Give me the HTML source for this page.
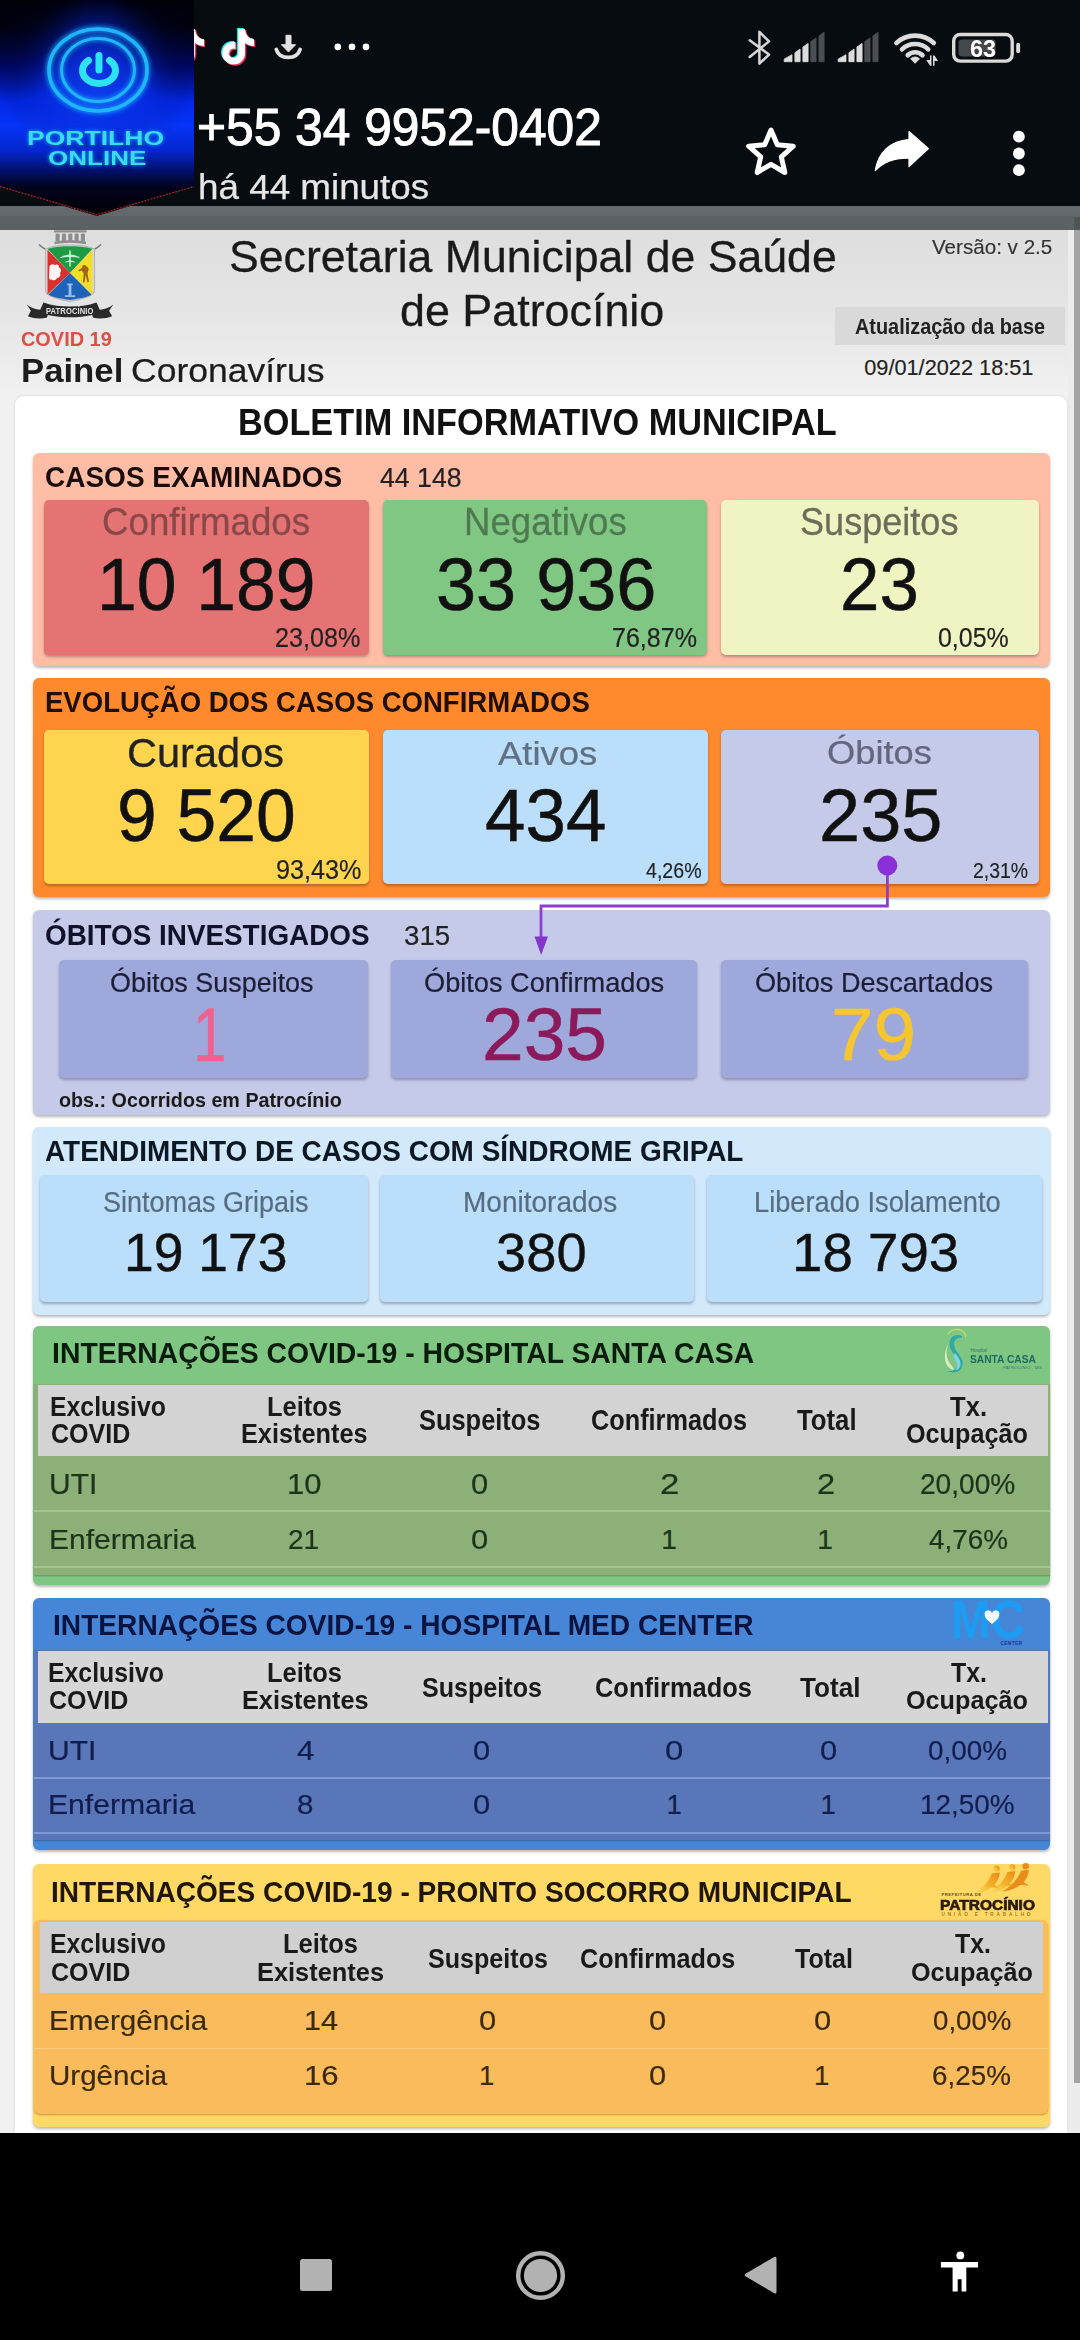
<!DOCTYPE html>
<html lang="pt-BR"><head><meta charset="utf-8"><title>Painel Coronavírus - Patrocínio</title>
<style>
html,body{margin:0;padding:0;background:#000;}
body{width:1080px;height:2340px;position:relative;overflow:hidden;font-family:"Liberation Sans",sans-serif;}
.t{position:absolute;white-space:nowrap;transform-origin:0 0;}
.r{position:absolute;}
svg{position:absolute;overflow:visible;}
</style></head><body>
<div class="r" style="left:0px;top:0px;width:1080px;height:206px;background:#070c10;"></div>
<div class="r" style="left:0px;top:205.5px;width:1080px;height:24.5px;background:linear-gradient(#656a6e 0,#63686c 40%,#5d6266 45%,#5b6063 100%);"></div>
<div class="r" style="left:0px;top:230px;width:1068px;height:1903px;background:linear-gradient(#dedede 0,#e6e6e6 90px,#f1f1f1 165px,#f1f1f1 100%);"></div>
<div class="r" style="left:1068px;top:230px;width:12px;height:1903px;background:#ececec;"></div>
<div class="r" style="left:1074px;top:217px;width:6px;height:13px;background:#4f5457;"></div>
<div class="r" style="left:1074px;top:230px;width:6px;height:1853px;background:#a3a3a3;"></div>
<div class="r" style="left:15px;top:396px;width:1052px;height:1737px;background:#fff;border-radius:9px 9px 0 0;box-shadow:0 0 3px rgba(0,0,0,.12);"></div>
<div class="t" style="left:228.99px;top:235.26px;font-size:44.35px;line-height:44.35px;color:#1a1a1a;transform:scaleX(1.0063);-webkit-text-stroke-width:0.31px;">Secretaria Municipal de Saúde</div>
<div class="t" style="left:400.11px;top:288.25px;font-size:45.07px;line-height:45.07px;color:#1a1a1a;transform:scaleX(0.9951);-webkit-text-stroke-width:0.32px;">de Patrocínio</div>
<div class="t" style="left:20.80px;top:329.32px;font-size:20.29px;line-height:20.29px;font-weight:700;color:#dc5046;transform:scaleX(0.9813);">COVID 19</div>
<div class="t" style="left:20.54px;top:354.41px;font-size:33.19px;line-height:33.19px;font-weight:700;color:#1c1c1c;transform:scaleX(1.0468);">Painel</div>
<div class="t" style="left:131.02px;top:354.41px;font-size:33.19px;line-height:33.19px;color:#1c1c1c;transform:scaleX(1.0703);-webkit-text-stroke-width:0.23px;">Coronavírus</div>
<div class="t" style="left:931.50px;top:235.71px;font-size:21.01px;line-height:21.01px;color:#333;transform:scaleX(0.9813);-webkit-text-stroke-width:0.15px;">Versão: v 2.5</div>
<div class="r" style="left:835px;top:307px;width:230px;height:38px;background:#d9d9d9;"></div>
<div class="t" style="left:854.50px;top:315.60px;font-size:21.74px;line-height:21.74px;font-weight:700;color:#222;transform:scaleX(0.9147);">Atualização da base</div>
<div class="t" style="left:864.24px;top:357.10px;font-size:21.74px;line-height:21.74px;color:#222;transform:scaleX(1.0000);-webkit-text-stroke-width:0.15px;">09/01/2022 18:51</div>
<div class="t" style="left:238.07px;top:405.02px;font-size:36.96px;line-height:36.96px;font-weight:700;color:#111;transform:scaleX(0.9277);">BOLETIM INFORMATIVO MUNICIPAL</div>
<div class="r" style="left:33px;top:453px;width:1017px;height:213px;background:#ffbda6;border-radius:6px;box-shadow:0 2px 3px rgba(0,0,0,.28);"></div>
<div class="t" style="left:44.98px;top:462.03px;font-size:29.86px;line-height:29.86px;font-weight:700;color:#1a0c0a;transform:scaleX(0.9376);">CASOS EXAMINADOS</div>
<div class="t" style="left:380.47px;top:463.62px;font-size:27.97px;line-height:27.97px;color:#222;transform:scaleX(0.9534);-webkit-text-stroke-width:0.20px;">44 148</div>
<div class="r" style="left:44px;top:500px;width:325px;height:155px;background:#e57373;border-radius:5px;box-shadow:0 2px 3px rgba(0,0,0,.28);"></div>
<div class="r" style="left:383px;top:500px;width:324px;height:155px;background:#81c784;border-radius:5px;box-shadow:0 2px 3px rgba(0,0,0,.28);"></div>
<div class="r" style="left:721px;top:500px;width:318px;height:155px;background:#f0f4c3;border-radius:5px;box-shadow:0 2px 3px rgba(0,0,0,.28);"></div>
<div class="t" style="left:102.16px;top:503.56px;font-size:37.97px;line-height:37.97px;color:#8a4848;transform:scaleX(0.9667);-webkit-text-stroke-width:0.27px;">Confirmados</div>
<div class="t" style="left:464.07px;top:503.56px;font-size:37.97px;line-height:37.97px;color:#4e7a52;transform:scaleX(0.9640);-webkit-text-stroke-width:0.27px;">Negativos</div>
<div class="t" style="left:800.38px;top:503.56px;font-size:37.97px;line-height:37.97px;color:#6b6d58;transform:scaleX(0.9502);-webkit-text-stroke-width:0.27px;">Suspeitos</div>
<div class="t" style="left:96.64px;top:549.15px;font-size:73.38px;line-height:73.38px;color:#111;transform:scaleX(0.9743);-webkit-text-stroke-width:0.51px;">10 189</div>
<div class="t" style="left:435.78px;top:549.15px;font-size:73.38px;line-height:73.38px;color:#111;transform:scaleX(0.9825);-webkit-text-stroke-width:0.51px;">33 936</div>
<div class="t" style="left:840.16px;top:549.15px;font-size:73.38px;line-height:73.38px;color:#111;transform:scaleX(0.9660);-webkit-text-stroke-width:0.51px;">23</div>
<div class="t" style="left:275.24px;top:625.30px;font-size:26.81px;line-height:26.81px;color:#222;transform:scaleX(0.9409);-webkit-text-stroke-width:0.19px;">23,08%</div>
<div class="t" style="left:612.25px;top:625.30px;font-size:26.81px;line-height:26.81px;color:#222;transform:scaleX(0.9352);-webkit-text-stroke-width:0.19px;">76,87%</div>
<div class="t" style="left:937.63px;top:625.30px;font-size:26.81px;line-height:26.81px;color:#222;transform:scaleX(0.9307);-webkit-text-stroke-width:0.19px;">0,05%</div>
<div class="r" style="left:33px;top:678px;width:1017px;height:219px;background:#ff8a2e;border-radius:6px;box-shadow:0 2px 3px rgba(0,0,0,.28);"></div>
<div class="t" style="left:44.91px;top:686.93px;font-size:29.86px;line-height:29.86px;font-weight:700;color:#1f0e02;transform:scaleX(0.9224);">EVOLUÇÃO DOS CASOS CONFIRMADOS</div>
<div class="r" style="left:44px;top:730px;width:325px;height:154px;background:#ffd54f;border-radius:5px;box-shadow:0 2px 3px rgba(0,0,0,.28);"></div>
<div class="r" style="left:383px;top:730px;width:325px;height:154px;background:#bbdefb;border-radius:5px;box-shadow:0 2px 3px rgba(0,0,0,.28);"></div>
<div class="r" style="left:721px;top:730px;width:318px;height:154px;background:#c5cae9;border-radius:5px;box-shadow:0 2px 3px rgba(0,0,0,.28);"></div>
<div class="t" style="left:126.92px;top:734.26px;font-size:39.86px;line-height:39.86px;color:#222;transform:scaleX(1.0423);-webkit-text-stroke-width:0.28px;">Curados</div>
<div class="t" style="left:497.50px;top:736.84px;font-size:33.62px;line-height:33.62px;color:#5f7182;transform:scaleX(1.0835);-webkit-text-stroke-width:0.24px;">Ativos</div>
<div class="t" style="left:827.37px;top:736.95px;font-size:32.90px;line-height:32.90px;color:#62667e;transform:scaleX(1.1034);-webkit-text-stroke-width:0.23px;">Óbitos</div>
<div class="t" style="left:116.78px;top:778.53px;font-size:73.52px;line-height:73.52px;color:#111;transform:scaleX(0.9718);-webkit-text-stroke-width:0.51px;">9 520</div>
<div class="t" style="left:485.44px;top:778.53px;font-size:73.52px;line-height:73.52px;color:#111;transform:scaleX(0.9899);-webkit-text-stroke-width:0.51px;">434</div>
<div class="t" style="left:819.20px;top:778.53px;font-size:73.52px;line-height:73.52px;color:#111;transform:scaleX(1.0061);-webkit-text-stroke-width:0.51px;">235</div>
<div class="t" style="left:276.37px;top:856.19px;font-size:27.54px;line-height:27.54px;color:#222;transform:scaleX(0.9147);-webkit-text-stroke-width:0.19px;">93,43%</div>
<div class="t" style="left:646.11px;top:859.60px;font-size:21.74px;line-height:21.74px;color:#222;transform:scaleX(0.9018);-webkit-text-stroke-width:0.15px;">4,26%</div>
<div class="t" style="left:973.03px;top:859.60px;font-size:21.74px;line-height:21.74px;color:#222;transform:scaleX(0.8949);-webkit-text-stroke-width:0.15px;">2,31%</div>
<div class="r" style="left:33px;top:910px;width:1017px;height:205px;background:#c5cae9;border-radius:6px;box-shadow:0 2px 3px rgba(0,0,0,.28);"></div>
<div class="t" style="left:45.29px;top:920.30px;font-size:29.42px;line-height:29.42px;font-weight:700;color:#10122a;transform:scaleX(0.9473);">ÓBITOS INVESTIGADOS</div>
<div class="t" style="left:404.03px;top:921.65px;font-size:27.83px;line-height:27.83px;color:#222;transform:scaleX(0.9945);-webkit-text-stroke-width:0.19px;">315</div>
<div class="r" style="left:59px;top:960px;width:308.5px;height:117.5px;background:#9fa8da;border-radius:5px;box-shadow:0 2px 3px rgba(0,0,0,.28);"></div>
<div class="r" style="left:391px;top:960px;width:305.5px;height:117.5px;background:#9fa8da;border-radius:5px;box-shadow:0 2px 3px rgba(0,0,0,.28);"></div>
<div class="r" style="left:721px;top:960px;width:306.5px;height:117.5px;background:#9fa8da;border-radius:5px;box-shadow:0 2px 3px rgba(0,0,0,.28);"></div>
<div class="t" style="left:109.89px;top:968.08px;font-size:28.26px;line-height:28.26px;color:#1b1e35;transform:scaleX(0.9532);-webkit-text-stroke-width:0.20px;">Óbitos Suspeitos</div>
<div class="t" style="left:423.78px;top:968.08px;font-size:28.26px;line-height:28.26px;color:#1b1e35;transform:scaleX(0.9619);-webkit-text-stroke-width:0.20px;">Óbitos Confirmados</div>
<div class="t" style="left:755.28px;top:968.08px;font-size:28.26px;line-height:28.26px;color:#1b1e35;transform:scaleX(0.9599);-webkit-text-stroke-width:0.20px;">Óbitos Descartados</div>
<div class="t" style="left:193.37px;top:998.11px;font-size:75.36px;line-height:75.36px;color:#ee6291;transform:scaleX(0.8000);-webkit-text-stroke-width:0.53px;">1</div>
<div class="t" style="left:481.95px;top:999.17px;font-size:73.24px;line-height:73.24px;color:#8c1a5b;transform:scaleX(1.0230);-webkit-text-stroke-width:0.51px;">235</div>
<div class="t" style="left:831.18px;top:999.17px;font-size:73.24px;line-height:73.24px;color:#f5c62f;transform:scaleX(1.0425);-webkit-text-stroke-width:0.51px;">79</div>
<div class="t" style="left:59.31px;top:1091.44px;font-size:19.57px;line-height:19.57px;font-weight:700;color:#1a1a1a;transform:scaleX(1.0086);">obs.: Ocorridos em Patrocínio</div>
<svg style="left:0;top:0" width="1080" height="1200"><g fill="none" stroke="#8a3fcf" stroke-width="2.800"><path d="M887.400 865 V906 H541 V940"/></g><circle cx="887.300" cy="865.500" r="10" fill="#8a30d6"/><path d="M534.500 936.500 L548 936.500 L541.200 955 Z" fill="#8236cc"/></svg>
<div class="r" style="left:33px;top:1127px;width:1017px;height:188px;background:#d2e8fb;border-radius:6px;box-shadow:0 2px 3px rgba(0,0,0,.28);"></div>
<div class="t" style="left:44.90px;top:1135.83px;font-size:29.86px;line-height:29.86px;font-weight:700;color:#0e1822;transform:scaleX(0.9356);">ATENDIMENTO DE CASOS COM SÍNDROME GRIPAL</div>
<div class="r" style="left:40px;top:1175px;width:327.5px;height:127px;background:#bbdefb;border-radius:5px;box-shadow:0 2px 3px rgba(0,0,0,.28);"></div>
<div class="r" style="left:380px;top:1175px;width:314px;height:127px;background:#bbdefb;border-radius:5px;box-shadow:0 2px 3px rgba(0,0,0,.28);"></div>
<div class="r" style="left:706.5px;top:1175px;width:335.0px;height:127px;background:#bbdefb;border-radius:5px;box-shadow:0 2px 3px rgba(0,0,0,.28);"></div>
<div class="t" style="left:103.39px;top:1187.66px;font-size:28.99px;line-height:28.99px;color:#566d80;transform:scaleX(0.9313);-webkit-text-stroke-width:0.20px;">Sintomas Gripais</div>
<div class="t" style="left:462.76px;top:1187.66px;font-size:28.99px;line-height:28.99px;color:#566d80;transform:scaleX(0.9665);-webkit-text-stroke-width:0.20px;">Monitorados</div>
<div class="t" style="left:753.82px;top:1187.66px;font-size:28.99px;line-height:28.99px;color:#566d80;transform:scaleX(0.9389);-webkit-text-stroke-width:0.20px;">Liberado Isolamento</div>
<div class="t" style="left:124.29px;top:1227.14px;font-size:52.96px;line-height:52.96px;color:#111;transform:scaleX(1.0092);-webkit-text-stroke-width:0.37px;">19 173</div>
<div class="t" style="left:495.70px;top:1227.14px;font-size:52.96px;line-height:52.96px;color:#111;transform:scaleX(1.0252);-webkit-text-stroke-width:0.37px;">380</div>
<div class="t" style="left:792.40px;top:1227.14px;font-size:52.96px;line-height:52.96px;color:#111;transform:scaleX(1.0323);-webkit-text-stroke-width:0.37px;">18 793</div>
<div class="r" style="left:33px;top:1326px;width:1017px;height:259px;background:#7fc682;border-radius:6px;box-shadow:0 2px 3px rgba(0,0,0,.28);"></div>
<div class="t" style="left:52.36px;top:1337.53px;font-size:29.86px;line-height:29.86px;font-weight:700;color:#0a1c0c;transform:scaleX(0.9506);">INTERNAÇÕES COVID-19 - HOSPITAL SANTA CASA</div>
<div class="r" style="left:34px;top:1384px;width:1016px;height:191px;background:#8daf78;box-shadow:0 1px 1.500px rgba(0,0,0,.25);"></div>
<div class="r" style="left:38px;top:1385px;width:1009.5px;height:71px;background:#d3d3d3;"></div>
<div class="r" style="left:34px;top:1510px;width:1016px;height:2px;background:#a3c590;"></div>
<div class="r" style="left:34px;top:1565.5px;width:1016px;height:2.0px;background:#a3c590;"></div>
<div class="t" style="left:49.89px;top:1393.80px;font-size:26.81px;line-height:26.81px;font-weight:700;color:#1a1a1a;transform:scaleX(0.9263);">Exclusivo</div>
<div class="t" style="left:50.50px;top:1421.30px;font-size:26.81px;line-height:26.81px;font-weight:700;color:#1a1a1a;transform:scaleX(0.9355);">COVID</div>
<div class="t" style="left:266.84px;top:1393.80px;font-size:26.81px;line-height:26.81px;font-weight:700;color:#1a1a1a;transform:scaleX(0.9505);">Leitos</div>
<div class="t" style="left:240.86px;top:1421.30px;font-size:26.81px;line-height:26.81px;font-weight:700;color:#1a1a1a;transform:scaleX(0.9438);">Existentes</div>
<div class="t" style="left:419.36px;top:1405.96px;font-size:28.99px;line-height:28.99px;font-weight:700;color:#1a1a1a;transform:scaleX(0.8771);">Suspeitos</div>
<div class="t" style="left:591.49px;top:1405.96px;font-size:28.99px;line-height:28.99px;font-weight:700;color:#1a1a1a;transform:scaleX(0.8724);">Confirmados</div>
<div class="t" style="left:797.24px;top:1405.96px;font-size:28.99px;line-height:28.99px;font-weight:700;color:#1a1a1a;transform:scaleX(0.8876);">Total</div>
<div class="t" style="left:949.74px;top:1393.80px;font-size:26.81px;line-height:26.81px;font-weight:700;color:#1a1a1a;transform:scaleX(0.9563);">Tx.</div>
<div class="t" style="left:906.49px;top:1421.30px;font-size:26.81px;line-height:26.81px;font-weight:700;color:#1a1a1a;transform:scaleX(0.9403);">Ocupação</div>
<div class="t" style="left:49.25px;top:1469.79px;font-size:28.84px;line-height:28.84px;color:#1c331c;transform:scaleX(1.0402);-webkit-text-stroke-width:0.20px;">UTI</div>
<div class="t" style="left:286.68px;top:1469.79px;font-size:28.84px;line-height:28.84px;color:#1c331c;transform:scaleX(1.0749);-webkit-text-stroke-width:0.20px;">10</div>
<div class="t" style="left:471.42px;top:1469.79px;font-size:28.84px;line-height:28.84px;color:#1c331c;transform:scaleX(1.0724);-webkit-text-stroke-width:0.20px;">0</div>
<div class="t" style="left:659.76px;top:1469.79px;font-size:28.84px;line-height:28.84px;color:#1c331c;transform:scaleX(1.2060);-webkit-text-stroke-width:0.20px;">2</div>
<div class="t" style="left:816.87px;top:1469.79px;font-size:28.84px;line-height:28.84px;color:#1c331c;transform:scaleX(1.1307);-webkit-text-stroke-width:0.20px;">2</div>
<div class="t" style="left:919.60px;top:1469.79px;font-size:28.84px;line-height:28.84px;color:#1c331c;transform:scaleX(0.9742);-webkit-text-stroke-width:0.20px;">20,00%</div>
<div class="t" style="left:49.10px;top:1526.10px;font-size:28.12px;line-height:28.12px;color:#1c331c;transform:scaleX(1.0674);-webkit-text-stroke-width:0.20px;">Enfermaria</div>
<div class="t" style="left:287.60px;top:1526.10px;font-size:28.12px;line-height:28.12px;color:#1c331c;transform:scaleX(0.9987);-webkit-text-stroke-width:0.20px;">21</div>
<div class="t" style="left:471.42px;top:1526.10px;font-size:28.12px;line-height:28.12px;color:#1c331c;transform:scaleX(1.1000);-webkit-text-stroke-width:0.20px;">0</div>
<div class="t" style="left:661.28px;top:1526.10px;font-size:28.12px;line-height:28.12px;color:#1c331c;transform:scaleX(1.0000);-webkit-text-stroke-width:0.20px;">1</div>
<div class="t" style="left:817.28px;top:1526.10px;font-size:28.12px;line-height:28.12px;color:#1c331c;transform:scaleX(1.0000);-webkit-text-stroke-width:0.20px;">1</div>
<div class="t" style="left:929.44px;top:1526.10px;font-size:28.12px;line-height:28.12px;color:#1c331c;transform:scaleX(0.9915);-webkit-text-stroke-width:0.20px;">4,76%</div>
<div class="r" style="left:33px;top:1598px;width:1017px;height:252px;background:#4786d6;border-radius:6px;box-shadow:0 2px 3px rgba(0,0,0,.28);"></div>
<div class="t" style="left:52.57px;top:1610.17px;font-size:29.57px;line-height:29.57px;font-weight:700;color:#0b1440;transform:scaleX(0.9514);">INTERNAÇÕES COVID-19 - HOSPITAL MED CENTER</div>
<div class="r" style="left:34px;top:1650px;width:1016px;height:190px;background:#5977b8;box-shadow:0 1px 1.500px rgba(0,0,0,.25);"></div>
<div class="r" style="left:37.5px;top:1650.5px;width:1010.5px;height:72.0px;background:#d6d6d6;"></div>
<div class="r" style="left:34px;top:1776.5px;width:1016px;height:2.0px;background:#7d9ad6;"></div>
<div class="r" style="left:34px;top:1831.5px;width:1016px;height:2.0px;background:#7d9ad6;"></div>
<div class="t" style="left:48.39px;top:1660.30px;font-size:26.81px;line-height:26.81px;font-weight:700;color:#1a1a1a;transform:scaleX(0.9263);">Exclusivo</div>
<div class="t" style="left:49.00px;top:1687.42px;font-size:26.09px;line-height:26.09px;font-weight:700;color:#1a1a1a;transform:scaleX(0.9614);">COVID</div>
<div class="t" style="left:266.84px;top:1660.30px;font-size:26.81px;line-height:26.81px;font-weight:700;color:#1a1a1a;transform:scaleX(0.9505);">Leitos</div>
<div class="t" style="left:241.86px;top:1687.42px;font-size:26.09px;line-height:26.09px;font-weight:700;color:#1a1a1a;transform:scaleX(0.9701);">Existentes</div>
<div class="t" style="left:421.87px;top:1673.08px;font-size:28.26px;line-height:28.26px;font-weight:700;color:#1a1a1a;transform:scaleX(0.8884);">Suspeitos</div>
<div class="t" style="left:595.48px;top:1673.08px;font-size:28.26px;line-height:28.26px;font-weight:700;color:#1a1a1a;transform:scaleX(0.9006);">Confirmados</div>
<div class="t" style="left:799.74px;top:1673.08px;font-size:28.26px;line-height:28.26px;font-weight:700;color:#1a1a1a;transform:scaleX(0.9262);">Total</div>
<div class="t" style="left:950.75px;top:1660.30px;font-size:26.81px;line-height:26.81px;font-weight:700;color:#1a1a1a;transform:scaleX(0.9290);">Tx.</div>
<div class="t" style="left:906.49px;top:1687.42px;font-size:26.09px;line-height:26.09px;font-weight:700;color:#1a1a1a;transform:scaleX(0.9664);">Ocupação</div>
<div class="t" style="left:47.75px;top:1737.19px;font-size:27.54px;line-height:27.54px;color:#101d4d;transform:scaleX(1.0895);-webkit-text-stroke-width:0.19px;">UTI</div>
<div class="t" style="left:296.87px;top:1737.19px;font-size:27.54px;line-height:27.54px;color:#101d4d;transform:scaleX(1.1393);-webkit-text-stroke-width:0.19px;">4</div>
<div class="t" style="left:472.92px;top:1737.19px;font-size:27.54px;line-height:27.54px;color:#101d4d;transform:scaleX(1.1232);-webkit-text-stroke-width:0.19px;">0</div>
<div class="t" style="left:665.35px;top:1737.19px;font-size:27.54px;line-height:27.54px;color:#101d4d;transform:scaleX(1.1980);-webkit-text-stroke-width:0.19px;">0</div>
<div class="t" style="left:820.42px;top:1737.19px;font-size:27.54px;line-height:27.54px;color:#101d4d;transform:scaleX(1.1232);-webkit-text-stroke-width:0.19px;">0</div>
<div class="t" style="left:928.03px;top:1737.19px;font-size:27.54px;line-height:27.54px;color:#101d4d;transform:scaleX(1.0113);-webkit-text-stroke-width:0.19px;">0,00%</div>
<div class="t" style="left:47.59px;top:1791.19px;font-size:27.54px;line-height:27.54px;color:#101d4d;transform:scaleX(1.0936);-webkit-text-stroke-width:0.19px;">Enfermaria</div>
<div class="t" style="left:297.32px;top:1791.19px;font-size:27.54px;line-height:27.54px;color:#101d4d;transform:scaleX(1.0704);-webkit-text-stroke-width:0.19px;">8</div>
<div class="t" style="left:472.92px;top:1791.19px;font-size:27.54px;line-height:27.54px;color:#101d4d;transform:scaleX(1.1232);-webkit-text-stroke-width:0.19px;">0</div>
<div class="t" style="left:666.45px;top:1791.19px;font-size:27.54px;line-height:27.54px;color:#101d4d;transform:scaleX(1.0000);-webkit-text-stroke-width:0.19px;">1</div>
<div class="t" style="left:820.45px;top:1791.19px;font-size:27.54px;line-height:27.54px;color:#101d4d;transform:scaleX(1.0000);-webkit-text-stroke-width:0.19px;">1</div>
<div class="t" style="left:920.41px;top:1791.19px;font-size:27.54px;line-height:27.54px;color:#101d4d;transform:scaleX(1.0115);-webkit-text-stroke-width:0.19px;">12,50%</div>
<div class="r" style="left:33px;top:1864px;width:1017px;height:263px;background:#ffd966;border-radius:6px;box-shadow:0 2px 3px rgba(0,0,0,.28);"></div>
<div class="t" style="left:50.97px;top:1877.02px;font-size:29.28px;line-height:29.28px;font-weight:700;color:#1f1605;transform:scaleX(0.9592);">INTERNAÇÕES COVID-19 - PRONTO SOCORRO MUNICIPAL</div>
<div class="r" style="left:34px;top:1919.5px;width:1014px;height:194.5px;background:#f9bb5b;border-radius:6px;box-shadow:0 1px 2px rgba(120,70,0,.45);"></div>
<div class="r" style="left:40px;top:1922px;width:1002.5px;height:70.5px;background:#d0d0d0;"></div>
<div class="r" style="left:34px;top:2047.5px;width:1014px;height:1.5px;background:rgba(255,235,190,.35);"></div>
<div class="t" style="left:49.89px;top:1931.30px;font-size:26.81px;line-height:26.81px;font-weight:700;color:#1a1a1a;transform:scaleX(0.9263);">Exclusivo</div>
<div class="t" style="left:50.50px;top:1958.92px;font-size:26.09px;line-height:26.09px;font-weight:700;color:#1a1a1a;transform:scaleX(0.9614);">COVID</div>
<div class="t" style="left:283.34px;top:1931.30px;font-size:26.81px;line-height:26.81px;font-weight:700;color:#1a1a1a;transform:scaleX(0.9505);">Leitos</div>
<div class="t" style="left:257.35px;top:1958.92px;font-size:26.09px;line-height:26.09px;font-weight:700;color:#1a1a1a;transform:scaleX(0.9740);">Existentes</div>
<div class="t" style="left:427.87px;top:1944.08px;font-size:28.26px;line-height:28.26px;font-weight:700;color:#1a1a1a;transform:scaleX(0.8884);">Suspeitos</div>
<div class="t" style="left:580.49px;top:1944.08px;font-size:28.26px;line-height:28.26px;font-weight:700;color:#1a1a1a;transform:scaleX(0.8919);">Confirmados</div>
<div class="t" style="left:794.75px;top:1944.08px;font-size:28.26px;line-height:28.26px;font-weight:700;color:#1a1a1a;transform:scaleX(0.8866);">Total</div>
<div class="t" style="left:954.75px;top:1931.30px;font-size:26.81px;line-height:26.81px;font-weight:700;color:#1a1a1a;transform:scaleX(0.9290);">Tx.</div>
<div class="t" style="left:911.49px;top:1958.92px;font-size:26.09px;line-height:26.09px;font-weight:700;color:#1a1a1a;transform:scaleX(0.9664);">Ocupação</div>
<div class="t" style="left:49.13px;top:2007.19px;font-size:27.54px;line-height:27.54px;color:#3a2a10;transform:scaleX(1.0770);-webkit-text-stroke-width:0.19px;">Emergência</div>
<div class="t" style="left:304.20px;top:2007.19px;font-size:27.54px;line-height:27.54px;color:#3a2a10;transform:scaleX(1.1146);-webkit-text-stroke-width:0.19px;">14</div>
<div class="t" style="left:478.92px;top:2007.19px;font-size:27.54px;line-height:27.54px;color:#3a2a10;transform:scaleX(1.1232);-webkit-text-stroke-width:0.19px;">0</div>
<div class="t" style="left:648.92px;top:2007.19px;font-size:27.54px;line-height:27.54px;color:#3a2a10;transform:scaleX(1.1232);-webkit-text-stroke-width:0.19px;">0</div>
<div class="t" style="left:813.92px;top:2007.19px;font-size:27.54px;line-height:27.54px;color:#3a2a10;transform:scaleX(1.1232);-webkit-text-stroke-width:0.19px;">0</div>
<div class="t" style="left:932.53px;top:2007.19px;font-size:27.54px;line-height:27.54px;color:#3a2a10;transform:scaleX(1.0048);-webkit-text-stroke-width:0.19px;">0,00%</div>
<div class="t" style="left:49.29px;top:2062.19px;font-size:27.54px;line-height:27.54px;color:#3a2a10;transform:scaleX(1.0719);-webkit-text-stroke-width:0.19px;">Urgência</div>
<div class="t" style="left:304.16px;top:2062.19px;font-size:27.54px;line-height:27.54px;color:#3a2a10;transform:scaleX(1.1314);-webkit-text-stroke-width:0.19px;">16</div>
<div class="t" style="left:478.95px;top:2062.19px;font-size:27.54px;line-height:27.54px;color:#3a2a10;transform:scaleX(1.0000);-webkit-text-stroke-width:0.19px;">1</div>
<div class="t" style="left:648.92px;top:2062.19px;font-size:27.54px;line-height:27.54px;color:#3a2a10;transform:scaleX(1.1232);-webkit-text-stroke-width:0.19px;">0</div>
<div class="t" style="left:813.95px;top:2062.19px;font-size:27.54px;line-height:27.54px;color:#3a2a10;transform:scaleX(1.0000);-webkit-text-stroke-width:0.19px;">1</div>
<div class="t" style="left:932.11px;top:2062.19px;font-size:27.54px;line-height:27.54px;color:#3a2a10;transform:scaleX(1.0102);-webkit-text-stroke-width:0.19px;">6,25%</div>
<svg style="left:0;top:0" width="195" height="217" viewBox="0 0 195 217">
<defs>
<linearGradient id="lg1" x1="0" y1="0" x2="0" y2="1">
<stop offset="0" stop-color="#00000e"/><stop offset=".12" stop-color="#00042a"/><stop offset=".3" stop-color="#000a88"/>
<stop offset=".46" stop-color="#0226e6"/><stop offset=".58" stop-color="#0634f8"/><stop offset=".7" stop-color="#0426cc"/>
<stop offset=".8" stop-color="#020e60"/><stop offset=".87" stop-color="#01031a"/><stop offset="1" stop-color="#000006"/>
</linearGradient>
<radialGradient id="rg1" cx="97" cy="92" r="95" gradientUnits="userSpaceOnUse" gradientTransform="translate(0 30) scale(1 .68)">
<stop offset="0" stop-color="#2468ff" stop-opacity=".6"/><stop offset=".6" stop-color="#0a34f0" stop-opacity=".25"/><stop offset="1" stop-color="#000" stop-opacity="0"/>
</radialGradient>
<radialGradient id="cTL" cx="0" cy="20" r="85" gradientUnits="userSpaceOnUse"><stop offset="0" stop-color="#000" stop-opacity=".7"/><stop offset="1" stop-color="#000" stop-opacity="0"/></radialGradient>
<radialGradient id="cTR" cx="194" cy="20" r="85" gradientUnits="userSpaceOnUse"><stop offset="0" stop-color="#000" stop-opacity=".7"/><stop offset="1" stop-color="#000" stop-opacity="0"/></radialGradient>
<radialGradient id="rg2" cx="98" cy="72" r="78" gradientUnits="userSpaceOnUse"><stop offset="0" stop-color="#0c3cf0" stop-opacity=".75"/><stop offset=".55" stop-color="#082ce0" stop-opacity=".5"/><stop offset="1" stop-color="#0018a0" stop-opacity="0"/></radialGradient>
<filter id="gl" x="-30%" y="-30%" width="160%" height="160%"><feGaussianBlur stdDeviation="2.400"/></filter>
</defs>
<path d="M0 0H194V187L97 216L0 187Z" fill="url(#lg1)"/>
<path d="M0 0H194V187L97 216L0 187Z" fill="url(#rg1)"/>
<path d="M0 0H194V187L97 216L0 187Z" fill="url(#rg2)"/>
<path d="M0 0H194V187L97 216L0 187Z" fill="url(#cTL)"/>
<path d="M0 0H194V187L97 216L0 187Z" fill="url(#cTR)"/>
<path d="M0 186.500L97 214.800L194 186.500" fill="none" stroke="#a82424" stroke-width="1.300" stroke-dasharray="2 1.200"/>
<g fill="none" stroke="#19b4ff" filter="url(#gl)" opacity=".9">
<ellipse cx="98" cy="70" rx="49" ry="41" stroke-width="5"/><ellipse cx="98" cy="70" rx="36.500" ry="31.500" stroke-width="4"/>
</g>
<g fill="none" stroke="#20b6ff">
<ellipse cx="98" cy="70" rx="49" ry="41" stroke-width="3.600"/><ellipse cx="98" cy="70" rx="36.500" ry="31.500" stroke-width="3"/>
</g>
<g fill="none" stroke="#2ee2f8" stroke-width="7" stroke-linecap="round">
<path d="M88.500 60.500A16.500 13 0 1 0 109.500 60.500"/><path d="M99 55.500V70"/>
</g>
</svg>
<div class="t" style="left:26.77px;top:127.82px;font-size:20.29px;line-height:20.29px;font-weight:700;color:#38dcee;transform:scaleX(1.3088);text-shadow:0 0 4px #1aa8ff;">PORTILHO</div>
<div class="t" style="left:47.66px;top:147.82px;font-size:20.29px;line-height:20.29px;font-weight:700;color:#38dcee;transform:scaleX(1.2828);text-shadow:0 0 4px #1aa8ff;">ONLINE</div>
<div class="t" style="left:197.36px;top:102.23px;font-size:51.59px;line-height:51.59px;color:#fff;transform:scaleX(0.9634);-webkit-text-stroke:1px #fff;">+55 34 9952-0402</div>
<div class="t" style="left:197.61px;top:168.51px;font-size:35.07px;line-height:35.07px;color:#e6e6e6;transform:scaleX(1.0496);-webkit-text-stroke-width:0.25px;">há 44 minutos</div>
<svg style="left:222px;top:29px" width="33" height="37" viewBox="0 0 33 37">
<path d="M16.4 0H23c.3 5.400 3.600 9.600 9 10.300V17c-3.500 0-6.600-1.100-9-2.900V24.300A11.300 11.300 0 1 1 11.700 13c.600 0 1.200 0 1.700.1v6.800A4.700 4.700 0 1 0 16.400 24.300Z" fill="#25f4ee" transform="translate(-1.300 -1.100)"/>
<path d="M16.4 0H23c.3 5.400 3.600 9.600 9 10.300V17c-3.500 0-6.600-1.100-9-2.900V24.300A11.300 11.300 0 1 1 11.700 13c.600 0 1.200 0 1.700.1v6.800A4.700 4.700 0 1 0 16.400 24.300Z" fill="#fe2c55" transform="translate(1.300 1.100)"/>
<path d="M16.4 0H23c.3 5.400 3.600 9.600 9 10.300V17c-3.500 0-6.600-1.100-9-2.900V24.300A11.300 11.300 0 1 1 11.700 13c.600 0 1.200 0 1.700.1v6.800A4.700 4.700 0 1 0 16.400 24.300Z" fill="#fff"/></svg>
<svg style="left:194px;top:29px;overflow:hidden" width="11" height="37" viewBox="22 0 11 37">
<path d="M16.4 0H23c.3 5.400 3.600 9.600 9 10.300V17c-3.500 0-6.600-1.100-9-2.900V24.300A11.300 11.300 0 1 1 11.700 13c.600 0 1.200 0 1.700.1v6.800A4.700 4.700 0 1 0 16.400 24.300Z" fill="#fe2c55" transform="translate(1.300 1.100)"/>
<path d="M16.4 0H23c.3 5.400 3.600 9.600 9 10.300V17c-3.500 0-6.600-1.100-9-2.900V24.300A11.300 11.300 0 1 1 11.700 13c.600 0 1.200 0 1.700.1v6.800A4.700 4.700 0 1 0 16.400 24.300Z" fill="#fff"/></svg>
<svg style="left:272px;top:33px" width="32" height="28" viewBox="272 33 32 28">
<path d="M286 35.300h5v9.400h4.600L288.500 52l-7.100-7.300H286Z" fill="#e2e2e2" stroke="#e2e2e2" stroke-width="1" stroke-linejoin="round"/>
<path d="M276.300 49.500C278 55 282.500 57.400 288.200 57.400S298.400 55 300.100 49.500" fill="none" stroke="#e2e2e2" stroke-width="3.800" stroke-linecap="round"/></svg>
<svg style="left:330px;top:40px" width="44" height="14" viewBox="330 40 44 14" fill="#fff">
<circle cx="337.800" cy="46.900" r="3.300"/><circle cx="352" cy="46.900" r="3.300"/><circle cx="366" cy="46.900" r="3.300"/></svg>
<svg style="left:745px;top:28px" width="30" height="40" viewBox="745 28 30 40">
<path d="M749.700 40.200L769 54.600L759.400 63.600V31.800L769 41.400L749.700 57" fill="none" stroke="#d6d6d6" stroke-width="2.500" stroke-linejoin="round" stroke-linecap="round"/></svg>
<svg style="left:780px;top:30px" width="48" height="34" viewBox="780 30 48 34"><path d="M784.2 61.700V59.1L792 54.7V61.700Z" fill="#dcdcdc" stroke="#dcdcdc" stroke-width=".8" stroke-linejoin="round"/><path d="M794.9 61.700V52.7L800.1 49.0V61.700Z" fill="#dcdcdc" stroke="#dcdcdc" stroke-width=".8" stroke-linejoin="round"/><path d="M802.9 61.700V47.1L808.1 43.4V61.700Z" fill="#dcdcdc" stroke="#dcdcdc" stroke-width=".8" stroke-linejoin="round"/><path d="M810.8 61.700V41.5L816.1 37.8V61.700Z" fill="#4b4f53" stroke="#4b4f53" stroke-width=".8" stroke-linejoin="round"/><path d="M818.9 61.700V35.9L824.1 32.2V61.700Z" fill="#4b4f53" stroke="#4b4f53" stroke-width=".8" stroke-linejoin="round"/></svg>
<svg style="left:833.7px;top:30px" width="48" height="34" viewBox="780 30 48 34"><path d="M784.2 61.700V59.1L792 54.7V61.700Z" fill="#dcdcdc" stroke="#dcdcdc" stroke-width=".8" stroke-linejoin="round"/><path d="M794.9 61.700V52.7L800.1 49.0V61.700Z" fill="#dcdcdc" stroke="#dcdcdc" stroke-width=".8" stroke-linejoin="round"/><path d="M802.9 61.700V47.1L808.1 43.4V61.700Z" fill="#dcdcdc" stroke="#dcdcdc" stroke-width=".8" stroke-linejoin="round"/><path d="M810.8 61.700V41.5L816.1 37.8V61.700Z" fill="#4b4f53" stroke="#4b4f53" stroke-width=".8" stroke-linejoin="round"/><path d="M818.9 61.700V35.9L824.1 32.2V61.700Z" fill="#4b4f53" stroke="#4b4f53" stroke-width=".8" stroke-linejoin="round"/></svg>
<svg style="left:890px;top:28px" width="52" height="42" viewBox="890 28 52 42">
<g fill="none" stroke="#dcdcdc" stroke-width="4.600" stroke-linecap="round">
<path d="M896.400 43A27.300 27.300 0 0 1 933.800 43"/>
<path d="M902 49.300A19 19 0 0 1 928.200 49.300"/>
<path d="M907.700 55.200A10.800 10.800 0 0 1 922.500 55.200"/></g>
<path d="M915.100 63.300L910.700 58.800A6.300 6.300 0 0 1 919.500 58.800Z" fill="#dcdcdc" stroke="#dcdcdc" stroke-width="1" stroke-linejoin="round"/>
<path d="M926.300 60h3.700V55.500h1.500V65.700h-1.500Z M933 55.500h1.500L938 61h-3.500V65.700H933Z" fill="#dcdcdc"/></svg>
<svg style="left:950px;top:30px" width="72" height="36" viewBox="950 30 72 36">
<rect x="953.700" y="34.500" width="58.500" height="26.600" rx="6.500" fill="none" stroke="#dadada" stroke-width="3.400"/>
<rect x="958.600" y="39.400" width="37" height="17" rx="3" fill="#44474c"/>
<rect x="1016.200" y="42.800" width="3.900" height="10.300" rx="1.900" fill="#dadada"/></svg>
<div class="t" style="left:970.18px;top:37.67px;font-size:23.19px;line-height:23.19px;font-weight:700;color:#fff;transform:scaleX(1.0118);">63</div>
<svg style="left:740px;top:120px" width="62" height="62" viewBox="740 120 62 62">
<path d="M771.0 130.0 L777.3 144.8 L793.3 146.2 L781.3 156.8 L784.8 172.5 L771.0 164.3 L757.2 172.5 L760.7 156.8 L748.7 146.2 L764.7 144.8Z" fill="none" stroke="#fff" stroke-width="5" stroke-linejoin="round"/></svg>
<svg style="left:870px;top:126px" width="64" height="50" viewBox="870 126 64 50">
<path d="M909 131.500L928.500 148.600L909 166.500V158.200C894 157.700 883 162.500 875.300 170.600C878 152.500 890.500 140.700 909 139.500Z" fill="#fff" stroke="#fff" stroke-width="1.200" stroke-linejoin="round"/></svg>
<svg style="left:1010px;top:128px" width="18" height="50" viewBox="1010 128 18 50" fill="#fff">
<circle cx="1018.900" cy="136.700" r="5.900"/><circle cx="1018.900" cy="153.500" r="5.900"/><circle cx="1018.900" cy="170.200" r="5.900"/></svg>
<div class="r" style="left:300px;top:2259px;width:32px;height:32px;background:#b2b2b2;border-radius:2.500px;"></div>
<svg style="left:510px;top:2245px" width="62" height="62" viewBox="510 2245 62 62">
<circle cx="540.500" cy="2275.500" r="22.300" fill="none" stroke="#b2b2b2" stroke-width="4.400"/><circle cx="540.500" cy="2275.500" r="16.600" fill="#b2b2b2"/></svg>
<svg style="left:740px;top:2250px" width="42" height="50" viewBox="740 2250 42 50">
<path d="M746.200 2275L775 2258.300V2292Z" fill="#b2b2b2" stroke="#b2b2b2" stroke-width="3" stroke-linejoin="round"/></svg>
<svg style="left:936px;top:2248px" width="48" height="48" viewBox="936 2248 48 48" fill="#fff">
<circle cx="960.300" cy="2255.400" r="3.900"/>
<path d="M940.900 2261.900H978V2267.600H966.300V2291.400H961.600V2279.300H957.700V2291.400H952.600V2267.600H940.900Z"/></svg>
<svg style="left:20px;top:228px" width="100" height="96" viewBox="20 228 100 96">
<rect x="54.500" y="232.500" width="31.500" height="10.500" fill="#e4e4e4"/>
<g fill="#8e8e8e">
<rect x="53.800" y="230.300" width="33" height="2.300" rx="1"/>
<rect x="55.500" y="233.600" width="4.200" height="7.600"/><rect x="61.900" y="233.600" width="4.200" height="7.600"/><rect x="68.200" y="233.600" width="4.200" height="7.600"/><rect x="74.500" y="233.600" width="4.200" height="7.600"/><rect x="80.800" y="233.600" width="4.200" height="7.600"/>
<path d="M54.500 241.500Q70 238.500 86 241.500V244.200Q70 241.200 54.500 244.200Z"/></g>
<path d="M39 244.500c3 3 6 4.500 7 5M101 244.500c-3 3-6 4.500-7 5" stroke="#777" stroke-width="1.500" fill="none"/>
<path d="M45.500 249C53 245.500 62 245 70 245s17 .5 24.500 4V290c0 5-6 7.500-24.500 11.500C51.500 297.500 45.500 295 45.500 290Z" fill="#d9d9d9" stroke="#b5b5b5" stroke-width="1.200"/>
<path d="M47.500 248.800C55 246.500 62 246.300 70 246.300s15 .2 22.500 2.500L70 273Z" fill="#1f9a44"/>
<path d="M47.500 249.800L70 273L47.500 294.500Z" fill="#d8322e"/>
<path d="M92.500 249.800L70 273L92.500 294.500Z" fill="#f2de28"/>
<path d="M70 273L48.500 294.500C52 297 60 298.500 70 300C80 298.500 88 297 91.500 294.500Z" fill="#1e63b8"/>
<path d="M49.500 266c2-2.500 4-2 5.500-1 2-1.500 4.500 0 4 2.500 2.500 1 2.500 4 1 5.500 1 2.500-.5 5-3 5-1 2.500-4 3-5.500 1.500-1.500.5-2.500-.5-2.500-2Z" fill="#fff" opacity=".95"/>
<path d="M69.200 250.500h1.600v4c4 .3 7.500 1.700 9.700 3.700-3-.8-6.200-1.200-9.700-1.200v3.500c2 .3 3.600 1 4.700 2-1.400-.3-3-.5-4.700-.5v4.500h-1.600V262c-1.700 0-3.300.2-4.700.5 1.100-1 2.700-1.700 4.700-2V257c-3.500 0-6.700.4-9.700 1.200 2.200-2 5.700-3.400 9.700-3.700Z" fill="#c9f0d4"/>
<path d="M82.500 265.500c1.500-1 3.500-.5 4 1 1.500.5 2.500 2 2 3.500l-1 3 1.500 9-1.600.3-1.700-7.300-1.200 7.500-1.600-.2.800-9.300-2.200-2.500-2.500 1-.6-1.400 3.600-2Z" fill="#a06418"/>
<path d="M67.300 283.500h5.400v1.800h-1.300v10h3.800v1.700H64.800v-1.700h3.800v-10h-1.300Z" fill="#8fc1ee"/>
<path d="M26.700 304.500c4 3.500 9 5 13.500 5.300l3.300-7.300c8.500 3 17.500 4 26.500 4s18-1 26.500-4l3.300 7.300c4.500-.3 9.500-1.800 13.500-5.300l-4.200 6.300 3 5.500c-6 2.500-13 2.700-18.800 1.500l-1.200-2.800c-7 1.700-14.500 2.300-22.100 2.300s-15.100-.6-22.100-2.300l-1.200 2.800c-5.800 1.200-12.800 1-18.800-1.500l3-5.500Z" fill="#2a2a2a"/>
</svg>
<div class="t" style="left:45.500px;top:307.300px;font-size:8.200px;line-height:9px;font-weight:700;color:#e4e4e4;letter-spacing:.15px;transform:scaleX(.92)">PATROCÍNIO</div>
<svg style="left:940px;top:1327px" width="30" height="50" viewBox="940 1327 30 50">
<path d="M948 1334c5-7 16-6 18 3" fill="none" stroke="#d6dc6a" stroke-width="1.300" opacity=".8"/>
<path d="M962 1336c-7-3-13 1-12.500 9 .5 7 8 11 8.500 18 .3 5-4 8.500-10.500 8 9 4 16-1 15-9-1-7-8.500-11-8.500-17.500 0-5 3.500-7.500 8-6.500Z" fill="#2fa9a6"/>
<path d="M950 1341c-4 6-4.500 14-1.500 20 2 4 5 6 5.500 9-5-1-8.500-5-9-11-.5-7 1.500-13 5-18Z" fill="#d8ecc0"/>
<path d="M955 1353c3 4 6 7 5.500 12-.3 3-2.500 5-5.500 5.500 2-2 2.500-4 2-6.500-.6-3-2.500-5-3.500-8Z" fill="#7fd4e6"/></svg>
<div class="t" style="left:969.74px;top:1353.06px;font-size:11.74px;line-height:11.74px;font-weight:700;color:#1c6b62;transform:scaleX(0.8712);">SANTA CASA</div>
<div class="t" style="left:970.500px;top:1347.500px;font-size:4.500px;line-height:5px;color:#2b7a70;">Hospital</div>
<div class="t" style="left:1003px;top:1364.500px;font-size:4.200px;line-height:5px;color:#2b7a70;letter-spacing:.2px">PATROCÍNIO - MG</div>
<div class="t" style="left:951.29px;top:1592.97px;font-size:54.49px;line-height:54.49px;font-weight:700;color:#1c9cf2;transform:scaleX(0.8768);">MC</div>
<svg style="left:984px;top:1611px" width="16" height="14" viewBox="0 0 16 14"><path d="M8 13C3 9 .800 6.600.800 4A3.300 3.300 0 0 1 8 2.400A3.300 3.300 0 0 1 15.200 4C15.200 6.600 13 9 8 13Z" fill="#f4fbff"/></svg>
<div class="t" style="left:1000.500px;top:1641px;font-size:5px;line-height:5px;font-weight:700;color:#1b3a9a;letter-spacing:.2px">CENTER</div>
<svg style="left:970px;top:1862px" width="64" height="36" viewBox="970 1862 64 36">
<defs><linearGradient id="pg" x1="0" y1="1" x2="1" y2="0"><stop offset="0" stop-color="#fbd24a" stop-opacity=".2"/><stop offset=".5" stop-color="#f4b52a"/><stop offset="1" stop-color="#e98a16"/></linearGradient></defs>
<g fill="url(#pg)">
<circle cx="996.5" cy="1868.8" r="3.300"/><path d="M999.7 1872.3999999999999C999.5 1877.8 997.0 1881.8 994.5 1884.8L1000.0 1888.3L991.5 1887.3C986.5 1891.3 979.5 1893.8 972.5 1894.3C981.5 1889.8 988.5 1881.8 992.0 1873.3Z"/>
<circle cx="1012" cy="1867.5" r="3.300"/><path d="M1015.2 1871.1C1015 1876.5 1012.5 1880.5 1010 1883.5L1015.5 1887.0L1007 1886.0C1002 1890.0 995 1892.5 988 1893.0C997 1888.5 1004 1880.5 1007.5 1872.0Z"/>
<circle cx="1025.7" cy="1866.2" r="3.300" fill="#e98d1a"/><path fill="#e98d1a" d="M1028.9 1869.8C1028.7 1875.2 1026.2 1879.2 1023.7 1882.2L1029.2 1885.7L1020.7 1884.7C1015.7 1888.7 1008.7 1891.2 1001.7 1891.7C1010.7 1887.2 1017.7 1879.2 1021.2 1870.7Z"/>
</g></svg>
<div class="t" style="left:940.39px;top:1897.86px;font-size:14.93px;line-height:14.93px;font-weight:700;color:#2b1a0b;transform:scaleX(1.0385);-webkit-text-stroke:.7px #2b1a0b;">PATROCÍNIO</div>
<div class="t" style="left:941.500px;top:1892.300px;font-size:4.200px;line-height:5px;font-weight:700;color:#6a4a1a;letter-spacing:.5px">PREFEITURA DE</div>
<div class="t" style="left:941.500px;top:1912.200px;font-size:4.600px;line-height:5px;font-weight:700;color:#a87a20;letter-spacing:2.850px">UNIÃO E TRABALHO</div>
</body></html>
